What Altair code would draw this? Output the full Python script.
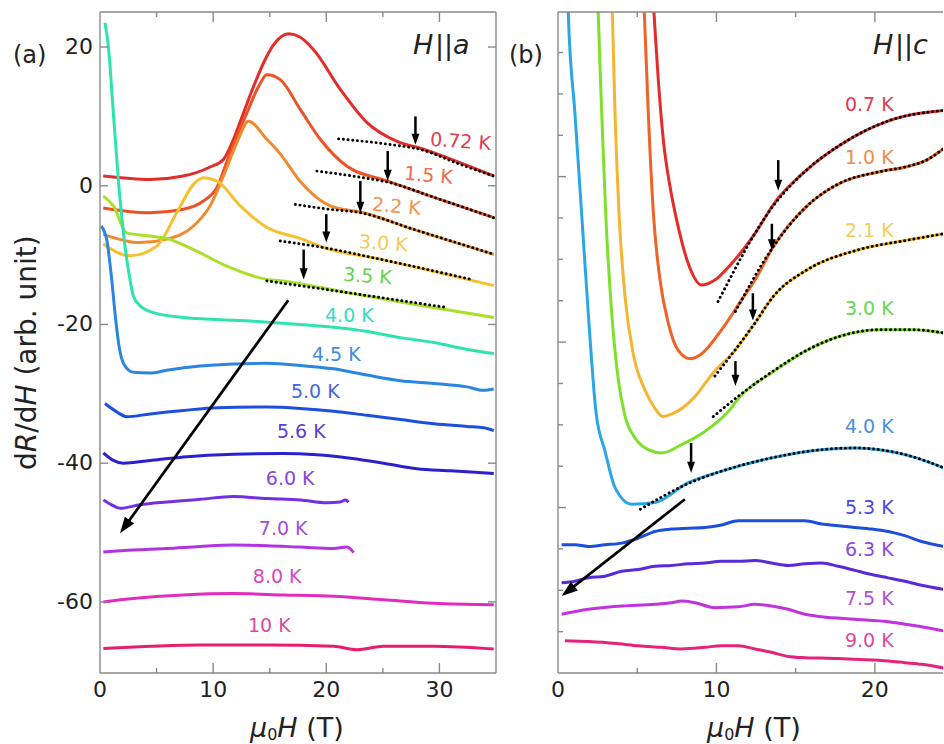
import math
import altair as alt
import pandas as pd

FONT = "DejaVu Sans"
INK = "#222222"
FRAME = "#8a8a8a"

# ------------------------------------------------------------------
# Panel (a): H || a   -- dR/dH curves, (mu0 H [T], value)
# ------------------------------------------------------------------
A_NAMES = ["0.72 K", "1.5 K", "2.2 K", "3.0 K", "3.5 K", "4.0 K", "4.5 K",
           "5.0 K", "5.6 K", "6.0 K", "7.0 K", "8.0 K", "10 K"]

a_072 = [(0.29, 1.4), (4.42, 0.9), (7.37, 1.4), (9.73, 2.7), (10.91, 3.8),
         (11.8, 6.7), (12.68, 10.5), (13.57, 14.3), (14.45, 17.7), (15.34, 20.3),
         (16.67, 21.9), (17.7, 21.4), (18.88, 19.6), (21.24, 13.9), (23.6, 9.1),
         (26.25, 6.4), (28.32, 5.4), (31.86, 3.3), (34.81, 1.4)]
a_15 = [(0.29, -3.2), (4.42, -3.9), (7.37, -3.4), (9.14, -2.2), (10.32, -0.3),
        (11.5, 4.75), (12.98, 10.5), (14.01, 14.3), (14.75, 16.0), (15.93, 15.3),
        (17.7, 11.0), (19.47, 6.7), (21.83, 2.8), (25.37, 0.7), (29.2, -1.5),
        (34.81, -4.6)]
a_22 = [(0.29, -7.0), (3.54, -8.2), (5.9, -7.7), (8.26, -5.8), (9.73, -2.9),
        (10.91, 1.4), (12.09, 6.2), (13.13, 9.3), (14.75, 6.7), (15.93, 4.6),
        (17.7, 0.6), (20.35, -2.9), (23.3, -3.9), (27.73, -6.3), (34.81, -9.9)]
a_30 = [(0.29, -8.4), (2.65, -10.1), (5.01, -8.7), (6.78, -3.9), (8.26, 0.2),
        (9.14, 1.15), (10.32, 0.7), (12.39, -2.9), (14.75, -6.0), (17.7, -7.6),
        (19.77, -8.9), (24.78, -10.6), (30.68, -12.8), (34.81, -14.4)]
a_35 = [(0.29, -1.5), (1.18, -2.9), (2.36, -6.8), (4.42, -7.25), (5.9, -7.6),
        (8.26, -9.2), (11.21, -11.6), (14.75, -13.5), (15.93, -13.7), (21.83, -15.4),
        (27.73, -17.1), (34.81, -19.0)]
a_40 = [(0.44, 23.5), (0.74, 20.1), (1.18, 10.5), (1.62, 0.9), (2.21, -8.7),
        (2.65, -13.5), (2.95, -15.9), (3.54, -17.3), (4.72, -18.3), (7.37, -19.0),
        (13.27, -19.5), (17.7, -20.0), (20.65, -20.4), (23.6, -21.0), (26.55, -21.9),
        (29.5, -22.6), (32.45, -23.6), (34.81, -24.2)]
a_45 = [(0.1, -5.8), (0.6, -7.8), (1.0, -13.0), (1.4, -19.5), (1.7, -23.3),
        (2.1, -25.7), (2.95, -26.9), (4.42, -27.0), (5.9, -26.6), (8.85, -26.0),
        (11.8, -25.7), (14.75, -25.6), (17.7, -25.9), (20.65, -26.4), (23.6, -27.3),
        (26.55, -28.1), (29.5, -28.5), (32.45, -29.0), (33.9, -29.5), (34.8, -29.3)]
a_50 = [(0.44, -31.4), (1.47, -32.6), (2.36, -33.3), (4.42, -32.9), (7.37, -32.4),
        (10.32, -32.0), (14.75, -31.9), (17.7, -32.1), (20.65, -32.5), (23.6, -33.1),
        (26.55, -33.7), (29.5, -34.3), (32.45, -34.7), (33.92, -34.9), (34.8, -35.3)]
a_56 = [(0.3, -38.5), (1.18, -39.6), (2.06, -40.0), (4.42, -39.6), (7.37, -39.1),
        (11.8, -38.7), (16.22, -38.6), (19.17, -38.8), (22.12, -39.3), (25.07, -40.0),
        (28.02, -40.8), (30.97, -41.1), (34.8, -41.5)]
a_60 = [(0.3, -45.3), (1.03, -46.0), (1.77, -46.5), (3.54, -46.0), (5.9, -45.6),
        (8.85, -45.2), (11.8, -44.8), (14.75, -45.1), (17.7, -45.3), (20.06, -45.7),
        (21.24, -45.6), (21.68, -45.3), (21.98, -45.6)]
a_70 = [(0.3, -52.8), (2.95, -52.5), (5.9, -52.3), (8.85, -52.0), (11.8, -51.8),
        (14.75, -51.9), (17.7, -52.1), (20.65, -52.3), (21.83, -52.1), (22.42, -52.9)]
a_80 = [(0.3, -60.0), (2.95, -59.5), (7.37, -59.0), (11.8, -58.8), (16.22, -59.0),
        (20.65, -59.2), (25.07, -59.7), (29.5, -60.2), (34.8, -60.4)]
a_100 = [(0.3, -66.7), (4.42, -66.4), (8.85, -66.2), (14.75, -66.2), (20.65, -66.4),
         (22.71, -66.9), (25.07, -66.4), (29.5, -66.4), (34.8, -66.8)]
A_CURVES = [a_072, a_15, a_22, a_30, a_35, a_40, a_45, a_50, a_56, a_60, a_70, a_80, a_100]

# high-field fits (dotted) and onset arrows (H, arrow top, arrow tip)
A_FIT_NAMES = ["0.72 K", "1.5 K", "2.2 K", "3.0 K", "3.5 K"]
fit_a_072 = [(21.09, 6.76), (25.66, 5.94), (28.32, 5.23), (31.86, 3.07), (34.81, 1.39)]
fit_a_15 = [(19.17, 2.11), (23.3, 1.15), (25.66, 0.43), (29.2, -1.49), (34.81, -4.61)]
fit_a_22 = [(17.26, -2.69), (20.35, -3.41), (23.01, -3.89), (27.73, -6.29), (34.81, -9.88)]
fit_a_30 = [(15.93, -7.96), (19.77, -8.92), (24.78, -10.6), (32.74, -13.48)]
fit_a_35 = [(14.75, -13.72), (21.83, -15.4), (30.68, -17.56)]
A_FITS = [fit_a_072, fit_a_15, fit_a_22, fit_a_30, fit_a_35]
A_ONSET = [(27.88, 10.0, 5.9), (25.43, 5.0, 0.7), (23.01, 0.7, -3.9),
           (20.0, -4.1, -8.2), (18.0, -9.2, -13.5)]
A_TREND = [(16.64, -16.5), (1.77, -50.1)]

A_LABEL_H = [31.86, 29.03, 26.19, 25.04, 23.63, 22.04, 20.88, 19.03, 17.79, 16.81, 16.19, 15.66, 14.96]
A_LABEL_V = [6.33, 1.44, -3.02, -8.35, -13.09, -18.85, -24.46, -29.78, -35.54, -42.3, -49.5, -56.4, -63.45]
A_LABEL_TILT = [4, 5, 5, 4, 4, 0, 0, 0, 0, 0, 0, 0, 0]

A_X_TICKLABELS = [0, 10, 20, 30]
A_Y_TICKLABELS = [-60, -40, -20, 0, 20]

A_LINE_COLORS = ["#e32d2a", "#ec5225", "#f08a2e", "#f6c030", "#a8e02a", "#2ee3ad", "#2b86e0",
                 "#1d4fde", "#2b20cf", "#7430e0", "#b134e0", "#e02dbf", "#e81e6c"]
A_TEXT_COLORS = ["#e23a4e", "#ef6a4c", "#f09452", "#f2cb56", "#66d24e", "#34dcc0", "#3d8ee0",
                 "#4468dc", "#5a40d4", "#8449d8", "#a84bd8", "#d846c4", "#e04a9e"]

# ------------------------------------------------------------------
# Panel (b): H || c
# ------------------------------------------------------------------
B_NAMES = ["0.7 K", "1.0 K", "2.1 K", "3.0 K", "4.0 K", "5.3 K", "6.3 K", "7.5 K", "9.0 K"]

b_07 = [(5.92, 84.0), (6.06, 79.7), (6.33, 71.7), (6.65, 64.4), (7.07, 58.8), (7.59, 53.9),
        (8.22, 49.5), (9.07, 46.9), (9.9, 47.5), (10.96, 49.5), (12.43, 53.1), (13.58, 56.6),
        (15.69, 60.8), (17.79, 63.8), (20.95, 66.8), (24.35, 68.0)]
b_10 = [(5.35, 84.0), (5.45, 79.7), (5.7, 67.6), (6.02, 55.6), (6.44, 47.5), (6.96, 42.3),
        (7.59, 39.0), (8.33, 38.0), (9.07, 38.6), (10.33, 41.5), (11.59, 45.1), (12.43, 47.5),
        (13.58, 51.5), (15.69, 56.4), (17.79, 59.2), (20.3, 60.6), (22.0, 61.2), (23.26, 62.0),
        (24.35, 63.4)]
b_21 = [(3.36, 84.0), (3.43, 79.7), (3.6, 67.6), (3.85, 55.6), (4.23, 45.5), (4.75, 38.6),
        (5.49, 34.2), (6.12, 32.0), (6.6, 31.0), (7.3, 31.4), (8.54, 33.2), (9.8, 36.3),
        (11.17, 39.0), (12.43, 42.3), (13.58, 45.5), (15.69, 48.7), (18.85, 51.1),
        (22.0, 52.3), (24.35, 53.1)]
b_30 = [(2.48, 84.0), (2.54, 79.7), (2.76, 67.6), (3.01, 55.6), (3.39, 43.5), (3.81, 35.4),
        (4.2, 31.3), (4.86, 28.4), (5.7, 27.0), (6.54, 26.6), (7.8, 27.6), (9.27, 29.2),
        (10.75, 31.6), (11.48, 33.4), (13.58, 36.4), (15.69, 39.0), (17.79, 40.7),
        (20.3, 41.5), (22.4, 41.5), (24.35, 41.1)]
b_40 = [(0.58, 84.0), (0.65, 79.7), (1.07, 67.6), (1.49, 55.6), (1.91, 43.5), (2.4, 31.5),
        (2.97, 26.8), (3.6, 22.4), (4.65, 20.4), (6.12, 20.6), (8.22, 23.0), (10.33, 24.4),
        (13.48, 26.0), (16.64, 27.0), (18.74, 27.2), (21.9, 26.4), (24.35, 24.8)]
b_53 = [(0.23, 15.5), (1.07, 15.5), (1.91, 15.3), (2.96, 15.5), (4.02, 15.7), (5.07, 16.3),
        (6.12, 17.1), (7.17, 17.4), (8.22, 17.5), (9.27, 17.6), (10.33, 17.9), (11.38, 18.4),
        (12.43, 18.4), (13.48, 18.4), (14.53, 18.4), (15.58, 18.4), (16.64, 18.0),
        (17.69, 17.8), (18.74, 17.6), (19.79, 17.4), (20.84, 17.1), (21.89, 16.6),
        (22.94, 15.9), (24.35, 15.3)]
b_63 = [(0.23, 10.9), (1.07, 11.1), (1.91, 11.5), (2.96, 11.7), (4.02, 12.3), (5.07, 12.5),
        (6.12, 12.9), (7.17, 13.0), (8.22, 13.2), (9.27, 13.3), (10.33, 13.5), (11.38, 13.5),
        (12.43, 13.6), (13.48, 13.3), (14.53, 13.0), (15.58, 13.2), (16.64, 13.3),
        (17.69, 12.9), (18.74, 12.4), (19.79, 11.9), (20.84, 11.5), (21.89, 11.1),
        (22.94, 10.6), (24.35, 10.1)]
b_75 = [(0.23, 7.1), (1.91, 7.7), (4.02, 8.1), (6.12, 8.3), (7.17, 8.5), (7.8, 8.7),
        (8.64, 8.5), (9.9, 7.9), (11.38, 8.0), (12.43, 8.3), (13.48, 8.1), (14.53, 7.7),
        (15.58, 7.1), (16.64, 6.8), (18.74, 6.5), (20.84, 6.2), (21.89, 5.9), (22.94, 5.6),
        (24.35, 5.1)]
b_90 = [(0.44, 3.9), (1.91, 3.8), (2.96, 3.7), (4.02, 3.5), (5.07, 3.3), (6.54, 3.1),
        (7.8, 2.9), (9.27, 3.1), (10.33, 3.3), (11.38, 3.3), (12.43, 2.9), (13.48, 2.5),
        (14.53, 2.0), (15.58, 1.85), (16.64, 1.8), (17.69, 1.75), (18.74, 1.65),
        (20.84, 1.45), (21.89, 1.25), (22.94, 1.05), (24.35, 0.6)]
B_CURVES = [b_07, b_10, b_21, b_30, b_40, b_53, b_63, b_75, b_90]

B_FIT_NAMES = ["0.7 K", "1.0 K", "2.1 K", "3.0 K", "4.0 K"]
fit_b_07 = [(10.1, 44.9), (13.6, 56.5), (15.69, 60.8), (17.79, 63.8), (20.95, 66.8), (24.35, 68.0)]
fit_b_10 = [(11.2, 43.7), (13.4, 51.0), (15.69, 56.4), (17.79, 59.2), (20.3, 60.6),
            (22.0, 61.2), (23.26, 62.0), (24.35, 63.4)]
fit_b_21 = [(9.9, 35.9), (12.43, 42.3), (13.58, 45.5), (15.69, 48.7), (18.85, 51.1),
            (22.0, 52.3), (24.35, 53.1)]
fit_b_30 = [(9.8, 31.0), (11.48, 33.6), (13.58, 36.5), (15.69, 39.0), (17.79, 40.7),
            (20.3, 41.5), (22.4, 41.5), (24.35, 41.1)]
fit_b_40 = [(5.2, 19.8), (8.22, 22.9), (10.33, 24.4), (13.48, 26.0), (16.64, 27.0),
            (18.74, 27.2), (21.9, 26.4), (24.35, 24.8)]
B_FITS = [fit_b_07, fit_b_10, fit_b_21, fit_b_30, fit_b_40]
B_ONSET = [(13.9, 62.0, 58.3), (13.5, 54.3, 51.1), (12.3, 45.9, 42.6),
           (11.2, 37.7, 34.7), (8.4, 27.8, 24.2)]
B_TREND = [(8.01, 21.0), (0.23, 9.3)]

B_LABEL_H = [18.11] * 9
B_LABEL_V = [68.6, 62.3, 53.4, 44.0, 29.7, 20.0, 14.9, 8.9, 3.9]
B_LABEL_TILT = [0] * 9

B_X_TICKLABELS = [0, 10, 20]

B_LINE_COLORS = ["#e42d2a", "#ee6326", "#f6b531", "#7fe02c", "#2ba6e6", "#1c4edd",
                 "#5a2ad8", "#c133dc", "#e6237c"]
B_TEXT_COLORS = ["#e23a4e", "#f08c4c", "#f2cd5a", "#66d84e", "#4a90e0", "#4a4ade",
                 "#8a4ae0", "#b04fd8", "#e046a2"]

# ------------------------------------------------------------------
# geometry of the two panels
# ------------------------------------------------------------------
AW, AH = 396, 661
BW, BH = 385, 661
A_XDOM, A_YDOM = [0, 35], [-70.25, 25.05]
B_XDOM, B_YDOM = [0, 24.3], [0, 79.9]

BLANK = alt.Data(values=[{}])
HEAD_DOWN = "M0,0L-0.5,-1.4L0.5,-1.4Z"
HEAD_UP = "M0,0L-0.6,1.7L0.6,1.7Z"

# DejaVu Sans advance widths (em) used to set mixed italic/upright runs
ADV = {"d": 0.635, "R": 0.695, "/": 0.337, "H": 0.752, " ": 0.318, "(": 0.39, ")": 0.39,
       "a": 0.613, "r": 0.411, "b": 0.635, ".": 0.318, "u": 0.634, "n": 0.634, "i": 0.278,
       "t": 0.392, "\u03bc": 0.636, "0": 0.636, "T": 0.611, "|": 0.337, "c": 0.55}


def run_width(s, size):
    return sum(ADV.get(ch, 0.6) for ch in s) * size


def long_table(names, curves, colors=None):
    rows = []
    for k, (name, pts) in enumerate(zip(names, curves)):
        for i, (h, v) in enumerate(pts):
            row = {"name": name, "H": h, "v": v, "i": i}
            if colors is not None:
                row["c"] = colors[k]
            rows.append(row)
    return pd.DataFrame(rows)


def note(text, x, y, size, italic=False, angle=0, align="left", color=INK):
    kw = dict(font=FONT, fontSize=size, align=align, baseline="alphabetic", color=color)
    if italic:
        kw["fontStyle"] = "italic"
    if angle:
        kw["angle"] = angle
    return alt.Chart(BLANK).mark_text(**kw).encode(
        x=alt.value(x), y=alt.value(y), text=alt.value(text))


def horizontal_runs(runs, x, y):
    """runs: (text, size, italic, baseline shift) placed left to right."""
    out = []
    for text, size, italic, shift in runs:
        out.append(note(text, x, y + shift, size, italic=italic))
        x += run_width(text, size)
    return out


def vertical_runs(runs, x, y):
    """runs read bottom-to-top (rotated 270 degrees)."""
    out = []
    for text, size, italic in runs:
        out.append(note(text, x, y, size, italic=italic, angle=270))
        y -= run_width(text, size)
    return out


def frame(W, H, right=True):
    segs = [dict(x=alt.value(0), x2=alt.value(W), y=alt.value(0)),
            dict(x=alt.value(0), x2=alt.value(W), y=alt.value(H)),
            dict(x=alt.value(0), y=alt.value(0), y2=alt.value(H))]
    if right:
        segs.append(dict(x=alt.value(W), y=alt.value(0), y2=alt.value(H)))
    return [alt.Chart(BLANK).mark_rule(color=FRAME, strokeWidth=1.4).encode(**s) for s in segs]


def xticks(vals, xs, H, length):
    base = alt.Chart(pd.DataFrame({"t": vals})).mark_rule(color=FRAME, strokeWidth=1.4)
    x = alt.X("t:Q", scale=xs, axis=None)
    return [base.encode(x=x, y=alt.value(H), y2=alt.value(H - length)),
            base.encode(x=x, y=alt.value(0), y2=alt.value(length))]


def yticks(vals, ys, W, length, right=True):
    base = alt.Chart(pd.DataFrame({"t": vals})).mark_rule(color=FRAME, strokeWidth=1.4)
    y = alt.Y("t:Q", scale=ys, axis=None)
    out = [base.encode(y=y, x=alt.value(0), x2=alt.value(length))]
    if right:
        out.append(base.encode(y=y, x=alt.value(W), x2=alt.value(W - length)))
    return out


def tick_labels(xvals, yvals, xs, ys, H):
    out = []
    if xvals:
        df = pd.DataFrame({"t": xvals, "s": [str(v) for v in xvals]})
        out.append(alt.Chart(df).mark_text(font=FONT, fontSize=22, color=INK, align="center",
                                           baseline="top").encode(
            x=alt.X("t:Q", scale=xs, axis=None), y=alt.value(H + 7), text="s:N"))
    if yvals:
        df = pd.DataFrame({"t": yvals, "s": [str(v) for v in yvals]})
        out.append(alt.Chart(df).mark_text(font=FONT, fontSize=22, color=INK, align="right",
                                           baseline="middle").encode(
            y=alt.Y("t:Q", scale=ys, axis=None), x=alt.value(-7), text="s:N"))
    return out


def panel(names, curves, line_colors, text_colors, lab_h, lab_v, lab_tilt, lab_align,
          fit_names, fits, onsets, trend, xdom, ydom, W, H):
    xs = alt.Scale(domain=xdom, nice=False, zero=False)
    ys = alt.Scale(domain=ydom, nice=False, zero=False)
    kx = W / (xdom[1] - xdom[0])
    ky = H / (ydom[1] - ydom[0])

    curves_df = long_table(names, curves, line_colors)
    lines = alt.Chart(curves_df).mark_line(strokeWidth=3, clip=True, interpolate="monotone").encode(
        x=alt.X("H:Q", scale=xs, axis=None),
        y=alt.Y("v:Q", scale=ys, axis=None),
        color=alt.Color("c:N", scale=None),
        detail="name:N",
        order="i:Q",
    )

    fits_df = long_table(fit_names, fits)
    dotted = alt.Chart(fits_df).mark_line(
        color="black", strokeWidth=2.9, strokeDash=[0.1, 4.6], strokeCap="round",
        clip=True, interpolate="monotone").encode(
        x=alt.X("H:Q", scale=xs, axis=None), y=alt.Y("v:Q", scale=ys, axis=None),
        detail="name:N", order="i:Q")

    # vertical onset arrows
    on_df = pd.DataFrame({"H": [o[0] for o in onsets], "top": [o[1] for o in onsets],
                          "tip": [o[2] for o in onsets]})
    on_df["shaft_end"] = on_df["tip"] + 6.0 / ky
    shafts = alt.Chart(on_df).mark_rule(color="black", strokeWidth=2.5).encode(
        x=alt.X("H:Q", scale=xs, axis=None), y=alt.Y("top:Q", scale=ys, axis=None),
        y2="shaft_end:Q")
    heads = alt.Chart(on_df).mark_point(shape=HEAD_DOWN, filled=True, color="black",
                                        opacity=1, size=250, strokeWidth=0).encode(
        x=alt.X("H:Q", scale=xs, axis=None), y=alt.Y("tip:Q", scale=ys, axis=None))

    # long trend arrow toward higher temperature
    (x0, y0), (x1, y1) = trend
    dxp, dyp = (x1 - x0) * kx, -(y1 - y0) * ky
    L = math.hypot(dxp, dyp)
    ang = math.degrees(math.atan2(dxp, -dyp)) % 360
    back = 12.0
    tr_df = pd.DataFrame({"x0": [x0], "y0": [y0],
                          "x1": [x1 - dxp / L * back / kx], "y1": [y1 + dyp / L * back / ky],
                          "xt": [x1], "yt": [y1]})
    tr_shaft = alt.Chart(tr_df).mark_rule(color="black", strokeWidth=2.7).encode(
        x=alt.X("x0:Q", scale=xs, axis=None), y=alt.Y("y0:Q", scale=ys, axis=None),
        x2="x1:Q", y2="y1:Q")
    tr_head = alt.Chart(tr_df).mark_point(shape=HEAD_UP, filled=True, color="black", opacity=1,
                                          size=360, strokeWidth=0, angle=ang).encode(
        x=alt.X("xt:Q", scale=xs, axis=None), y=alt.Y("yt:Q", scale=ys, axis=None))

    lab_df = pd.DataFrame({"name": names, "H": lab_h, "v": lab_v, "tc": text_colors,
                           "tilt": lab_tilt})
    labels = alt.Chart(lab_df).mark_text(font=FONT, fontSize=19, align=lab_align,
                                         baseline="middle").encode(
        x=alt.X("H:Q", scale=xs, axis=None), y=alt.Y("v:Q", scale=ys, axis=None),
        text="name:N", color=alt.Color("tc:N", scale=None),
        angle=alt.Angle("tilt:Q", scale=None))

    return [lines, dotted, shafts, heads, tr_shaft, tr_head, labels], xs, ys


X_TITLE_RUNS = [("\u03bc", 27, True, 0), ("0", 16, False, 3), ("H", 27, True, 0),
                (" ", 27, False, 0), ("(T)", 27, False, 0)]
Y_TITLE_RUNS = [("d", 28, False), ("R", 28, True), ("/", 28, False), ("d", 28, False),
                ("H", 28, True), (" ", 28, False), ("(arb. unit)", 28, False)]

# ---------------- panel (a) ----------------
layers_a, xs_a, ys_a = panel(
    A_NAMES, A_CURVES, A_LINE_COLORS, A_TEXT_COLORS, A_LABEL_H, A_LABEL_V, A_LABEL_TILT,
    "center", A_FIT_NAMES, A_FITS, A_ONSET, A_TREND, A_XDOM, A_YDOM, AW, AH)

deco_a = (frame(AW, AH)
          + xticks([10, 20, 30], xs_a, AH, 10) + xticks([5, 15, 25], xs_a, AH, 5)
          + yticks([-60, -40, -20, 0, 20], ys_a, AW, 8)
          + tick_labels(A_X_TICKLABELS, A_Y_TICKLABELS, xs_a, ys_a, AH)
          + horizontal_runs(X_TITLE_RUNS, 150, 725)
          + vertical_runs(Y_TITLE_RUNS, -64, 458)
          + [note("(a)", -87, 51, 24),
             note("H", 313, 42, 27, italic=True),
             note("||", 335, 42, 27),
             note("a", 353, 42, 27, italic=True)])

panel_a = alt.layer(*(layers_a + deco_a)).properties(width=AW, height=AH)

# ---------------- panel (b) ----------------
layers_b, xs_b, ys_b = panel(
    B_NAMES, B_CURVES, B_LINE_COLORS, B_TEXT_COLORS, B_LABEL_H, B_LABEL_V, B_LABEL_TILT,
    "left", B_FIT_NAMES, B_FITS, B_ONSET, B_TREND, B_XDOM, B_YDOM, BW, BH)

deco_b = (frame(BW, BH, right=False)
          + xticks([10, 20], xs_b, BH, 10) + xticks([5, 15], xs_b, BH, 5)
          + yticks([20, 40, 60], ys_b, BW, 8, right=False)
          + yticks([5, 10, 15, 25, 30, 35, 45, 50, 55, 65, 70, 75], ys_b, BW, 5, right=False)
          + tick_labels(B_X_TICKLABELS, [], xs_b, ys_b, BH)
          + horizontal_runs(X_TITLE_RUNS, 149, 725)
          + [note("(b)", -49, 51, 24),
             note("H", 315, 42, 27, italic=True),
             note("||", 337, 42, 27),
             note("c", 355, 42, 27, italic=True)])

panel_b = alt.layer(*(layers_b + deco_b)).properties(width=BW, height=BH)

chart = alt.hconcat(panel_a, panel_b, spacing=62, bounds="flush").properties(
    padding={"left": 13, "top": 11, "right": 0, "bottom": 0},
    background="white",
).configure_view(strokeWidth=0)

chart.save("out.html", embed_options={"renderer": "svg", "actions": False})
